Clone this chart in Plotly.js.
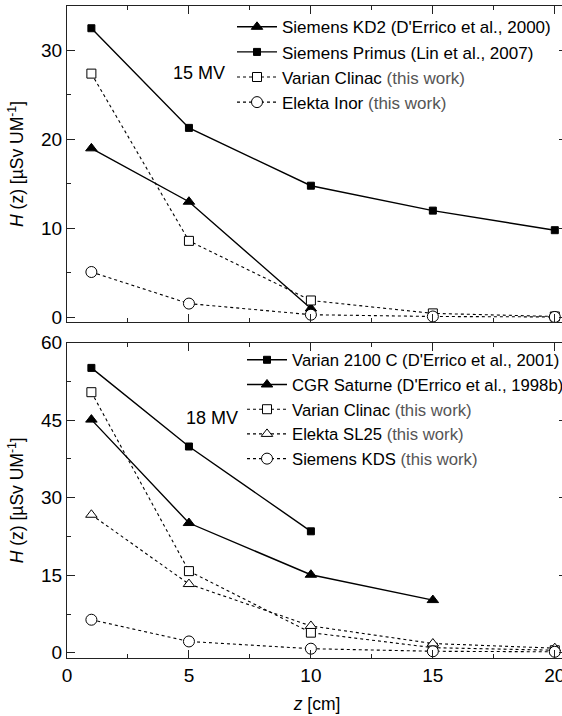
<!DOCTYPE html>
<html>
<head>
<meta charset="utf-8">
<script src="https://cdn.plot.ly/plotly-3.0.1.min.js"></script>
<style>html,body{margin:0;padding:0;overflow:hidden;background:#fff;}#chart{width:600px;height:716px;}</style>
</head>
<body>
<div id="chart"></div>
<script>
// 15 MV panel
const z15 = [1, 5, 10, 15, 20];
const kd2_x = [1, 5, 10];
const kd2_y = [19.0, 13.0, 1.0];
const primus_y = [32.5, 21.3, 14.8, 12.0, 9.8];
const clinac15_y = [27.4, 8.6, 1.9, 0.45, 0.1];
const inor_y = [5.1, 1.55, 0.3, 0.1, 0.05];

// 18 MV panel
const z18 = [1, 5, 10, 15, 20];
const v2100_x = [1, 5, 10];
const v2100_y = [55.1, 39.9, 23.5];
const saturne_x = [1, 5, 10, 15];
const saturne_y = [45.1, 25.1, 15.1, 10.2];
const clinac18_y = [50.4, 15.8, 3.9, 1.0, 0.5];
const sl25_y = [26.7, 13.3, 5.2, 1.8, 0.9];
const kds_y = [6.4, 2.2, 0.8, 0.3, 0.2];

const names15 = [
  "Siemens KD2 (D'Errico et al., 2000)",
  "Siemens Primus (Lin et al., 2007)",
  "Varian Clinac <span style='color:#555'>(this work)</span>",
  "Elekta Inor <span style='color:#555'>(this work)</span>"
];
const names18 = [
  "Varian 2100 C (D'Errico et al., 2001)",
  "CGR Saturne (D'Errico et al., 1998b)",
  "Varian Clinac <span style='color:#555'>(this work)</span>",
  "Elekta SL25 <span style='color:#555'>(this work)</span>",
  "Siemens KDS <span style='color:#555'>(this work)</span>"
];

const solid = {color: '#000', width: 1.4};
const dotted = {color: '#000', width: 1.1, dash: 'dot'};
function mk(symbol, size, filled) {
  return {symbol: symbol, size: size, color: filled ? '#000' : '#fff', line: {color: '#000', width: 1}};
}
function tr(x, y, name, line, marker, xa, ya, leg) {
  return {x: x, y: y, name: name, type: 'scatter', mode: 'lines+markers', line: line, marker: marker,
          xaxis: xa, yaxis: ya, legend: leg, cliponaxis: false};
}

const data = [
  tr(kd2_x, kd2_y, names15[0], solid, mk('triangle-up', 10, true), 'x', 'y', 'legend'),
  tr(z15, primus_y, names15[1], solid, mk('square', 7, true), 'x', 'y', 'legend'),
  tr(z15, clinac15_y, names15[2], dotted, mk('square', 9, false), 'x', 'y', 'legend'),
  tr(z15, inor_y, names15[3], dotted, mk('circle', 11, false), 'x', 'y', 'legend'),
  tr(v2100_x, v2100_y, names18[0], solid, mk('square', 7, true), 'x2', 'y2', 'legend2'),
  tr(saturne_x, saturne_y, names18[1], solid, mk('triangle-up', 10, true), 'x2', 'y2', 'legend2'),
  tr(z18, clinac18_y, names18[2], dotted, mk('square', 9, false), 'x2', 'y2', 'legend2'),
  tr(z18, sl25_y, names18[3], dotted, mk('triangle-up', 10, false), 'x2', 'y2', 'legend2'),
  tr(z18, kds_y, names18[4], dotted, mk('circle', 11, false), 'x2', 'y2', 'legend2')
];

const fontFam = '"Liberation Sans", Arial, sans-serif';
const axCommon = {
  showline: true, linecolor: '#222', linewidth: 1, mirror: 'ticks',
  ticks: 'inside', ticklen: 8, tickwidth: 1, tickcolor: '#222',
  showgrid: false, zeroline: false,
  tickfont: {family: fontFam, size: 19, color: '#000'}
};
const yTitle = "<i>H</i> (z) [µSv UM<sup>-1</sup>]";

const layout = {
  width: 600, height: 716,
  margin: {l: 67, r: 32.5, t: 6, b: 57.7},
  paper_bgcolor: '#fff', plot_bgcolor: '#fff',
  font: {family: fontFam, color: '#000'},
  showlegend: true,
  xaxis: Object.assign({}, axCommon, {range: [0, 20.5], dtick: 5, tick0: 0, showticklabels: false, anchor: 'y',
    minor: {ticks: 'inside', ticklen: 4, dtick: 2.5, tickcolor: '#222'}}),
  yaxis: Object.assign({}, axCommon, {domain: [0.5156, 1], range: [-0.5, 35], dtick: 10, tick0: 0, anchor: 'x',
    minor: {ticks: 'inside', ticklen: 4, dtick: 5, tickcolor: '#222'},
    title: {text: yTitle, font: {family: fontFam, size: 17.5, color: '#000'}, standoff: 12}}),
  xaxis2: Object.assign({}, axCommon, {range: [0, 20.5], dtick: 5, tick0: 0, anchor: 'y2',
    minor: {ticks: 'inside', ticklen: 4, dtick: 2.5, tickcolor: '#222'},
    title: {text: "<i>z</i> [cm]", font: {family: fontFam, size: 17.5, color: '#000'}, standoff: 12}}),
  yaxis2: Object.assign({}, axCommon, {domain: [0, 0.4838], range: [-1, 60], dtick: 15, tick0: 0, anchor: 'x2',
    minor: {ticks: 'inside', ticklen: 4, dtick: 7.5, tickcolor: '#222'},
    title: {text: yTitle, font: {family: fontFam, size: 17.5, color: '#000'}, standoff: 12}}),
  legend: {x: 0.33, y: 0.995, xanchor: 'left', yanchor: 'top', bgcolor: 'rgba(0,0,0,0)',
    font: {family: fontFam, size: 17, color: '#000'}, itemwidth: 40, tracegroupgap: 0},
  legend2: {x: 0.35, y: 0.484, xanchor: 'left', yanchor: 'top', bgcolor: 'rgba(0,0,0,0)',
    font: {family: fontFam, size: 16.7, color: '#000'}, itemwidth: 40, tracegroupgap: 0},
  annotations: [
    {text: '15 MV', x: 5.4, y: 27.5, xref: 'x', yref: 'y', showarrow: false,
     font: {family: fontFam, size: 18, color: '#000'}},
    {text: '18 MV', x: 5.94, y: 45.5, xref: 'x2', yref: 'y2', showarrow: false,
     font: {family: fontFam, size: 18, color: '#000'}}
  ]
};

Plotly.newPlot('chart', data, layout, {displayModeBar: false, staticPlot: true});
</script>
</body>
</html>
